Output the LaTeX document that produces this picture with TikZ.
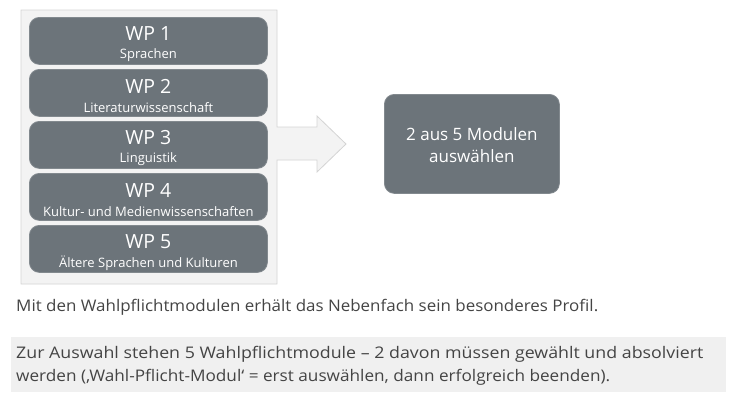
\documentclass[tikz,border=0pt]{standalone}
\usepackage{fontspec}
\usepackage{graphicx}
\setmainfont{Open Sans}
\definecolor{boxgray}{RGB}{108,116,122}
\definecolor{panelfill}{RGB}{243,243,243}
\definecolor{panelline}{RGB}{212,212,212}
\definecolor{txtgray}{RGB}{68,68,68}
\definecolor{bandfill}{RGB}{240,240,240}
\tikzset{
  wpbox/.style={draw=boxgray!85!white, line width=0.8pt, fill=boxgray, rounded corners=10pt, minimum width=238pt, minimum height=47pt, inner sep=0pt, anchor=north west},
  wptitle/.style={text=white, font=\fontsize{19.5}{22}\selectfont, inner sep=0pt},
  wpsub/.style={text=white, font=\fontsize{13}{15}\selectfont, inner sep=0pt},
  bodytext/.style={text=txtgray, font=\fontsize{16}{23}\selectfont, inner sep=0pt, anchor=west},
}
\newcommand\fitline[2]{\resizebox{#1}{\height}{#2}}
\begin{document}
\begin{tikzpicture}[x=1pt,y=-1pt]
\useasboundingbox (0,0) rectangle (735,400);
% panel with arrow
\draw[panelline, fill=panelfill, line width=0.8pt]
  (21,10) -- (277,10) -- (277,127) -- (317,127) -- (317,116) -- (346,144)
  -- (317,172) -- (317,160) -- (277,160) -- (277,284) -- (21,284) -- cycle;
% WP boxes
\foreach \i/\sub in {1/Sprachen, 2/Literaturwissenschaft, 3/Linguistik, 4/Kultur- und Medienwissenschaften, 5/Ältere Sprachen und Kulturen}{
  \pgfmathsetmacro{\top}{17+52*(\i-1)}
  \node[wpbox] (wp\i) at (29,\top) {};
  \node[wptitle] (wpt\i) at ([yshift=-17pt]wp\i.north) {WP \i};
  \node[wpsub] (wps\i) at ([yshift=-38.5pt]wp\i.north) {\sub};
}
% right box
\node[draw=boxgray!85!white, line width=0.8pt, fill=boxgray, rounded corners=10pt, minimum width=175pt, minimum height=99pt, anchor=north west, inner sep=0pt] (sel) at (384,94) {};
\node[text=white, font=\fontsize{17}{22}\selectfont, align=center, inner sep=0pt] (selt) at ([yshift=-1.5pt]sel.center) {2 aus 5 Modulen\\auswählen};
% texts
\node[bodytext] (t1) at (16,307) {\fitline{582pt}{Mit den Wahlpflichtmodulen erhält das Nebenfach sein besonderes Profil.}};
\fill[bandfill] (11,337) rectangle (726,392);
\node[bodytext] (t2) at (16,354) {\fitline{687pt}{Zur Auswahl stehen 5 Wahlpflichtmodule – 2 davon müssen gewählt und absolviert}};
\node[bodytext] (t3) at (16,377) {\fitline{594pt}{werden (‚Wahl-Pflicht-Modul‘ = erst auswählen, dann erfolgreich beenden).}};
\end{tikzpicture}
\end{document}
